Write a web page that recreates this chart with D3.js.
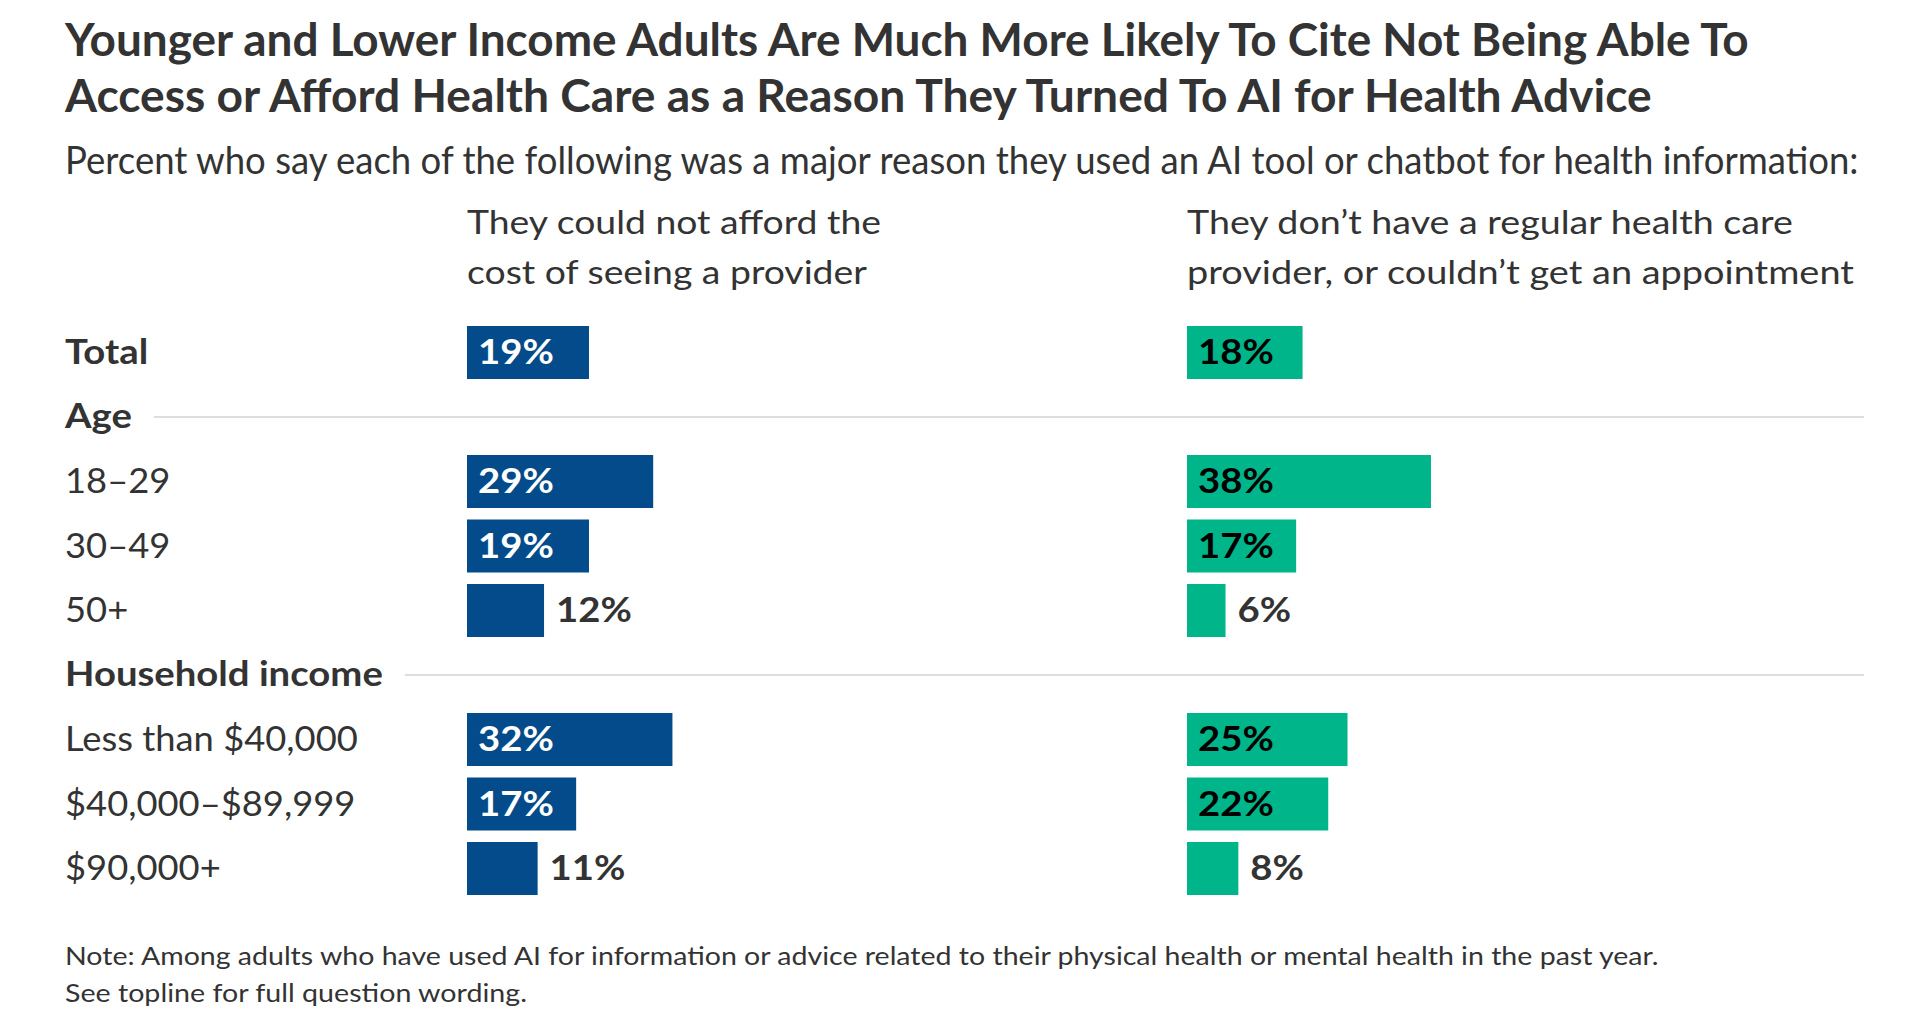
<!DOCTYPE html>
<html>
<head>
<meta charset="utf-8">
<script src="https://cdn.jsdelivr.net/npm/d3@7/dist/d3.min.js"></script>
<style>
  html, body { margin: 0; padding: 0; background: #fff; }
  svg { display: block; }
  text { font-family: Lato, "Open Sans", sans-serif; }
</style>
</head>
<body>
<svg id="chart" width="1920" height="1024"></svg>
<script>
// ---------- DATA ----------
const titleLines = [
  "Younger and Lower Income Adults Are Much More Likely To Cite Not Being Able To",
  "Access or Afford Health Care as a Reason They Turned To AI for Health Advice"
];
const subtitle = "Percent who say each of the following was a major reason they used an AI tool or chatbot for health information:";
const seriesNames = [
  ["They could not afford the", "cost of seeing a provider"],
  ["They don\u2019t have a regular health care", "provider, or couldn\u2019t get an appointment"]
];
const categories = ["Total", "18\u201329", "30\u201349", "50+", "Less than $40,000", "$40,000\u2013$89,999", "$90,000+"];
const groupOf = ["", "Age", "Age", "Age", "Household income", "Household income", "Household income"];
const afford = [19, 29, 19, 12, 32, 17, 11];
const access = [18, 38, 17, 6, 25, 22, 8];
const notes = [
  "Note: Among adults who have used AI for information or advice related to their physical health or mental health in the past year.",
  "See topline for full question wording."
];

// ---------- STYLE ----------
const colors = ["#034b8a", "#00b58a"];
const insideText = ["#ffffff", "#000000"];
const textColor = "#333333";

const svg = d3.select("#chart");

// Place a text at (x,y) and scale it horizontally to a target width (or by a factor)
function placeText(parent, x, y, str, size, weight, fill, target, factor) {
  const t = parent.append("text").attr("x", 0).attr("y", 0)
    .attr("font-size", size).attr("font-weight", weight).attr("fill", fill).text(str);
  const w = t.node().getComputedTextLength();
  let s = 1;
  if (target && w > 0) s = target / w;
  else if (factor) s = factor;
  t.attr("transform", `translate(${x},${y}) scale(${s},1)`);
  t.datum({ width: w * s });
  return t;
}

// ---------- TITLE / SUBTITLE ----------
const titleWidths = [1684, 1587];
const titleBase = [56, 112];
titleLines.forEach((t, i) => placeText(svg, 65, titleBase[i], t, 46, 700, textColor, titleWidths[i]));
placeText(svg, 65, 174, subtitle, 38, 400, textColor, 1794);

// ---------- LAYOUT ----------
const slots = [];
let lastGroup = null;
categories.forEach((c, i) => {
  if (groupOf[i] && groupOf[i] !== lastGroup) slots.push({ type: "head", key: "h_" + groupOf[i], label: groupOf[i] });
  lastGroup = groupOf[i];
  slots.push({ type: "row", key: "r_" + c, label: c, i, bold: groupOf[i] === "" });
});

const y = d3.scaleBand().domain(slots.map(s => s.key)).range([326, 895]).paddingInner(0.1783).paddingOuter(0);
const x = d3.scaleLinear().domain([0, 100]).range([0, 642]);
const colX = [467, 1187];
const rightEdge = 1864;

// column headers
const headWidths = [[414, 400], [606, 667]];
const headBase = [234, 284];
seriesNames.forEach((lines, s) => {
  lines.forEach((l, j) => placeText(svg, colX[s], headBase[j], l, 32, 400, textColor, headWidths[s][j]));
});

// squeeze factors from reference strings
function natural(str, size, weight) {
  const p = svg.append("text").attr("font-size", size).attr("font-weight", weight).text(str);
  const w = p.node().getComputedTextLength();
  p.remove();
  return w;
}
const labelFactor = 293 / natural("Less than $40,000", 35, 400);
const boldFactor = 318 / natural("Household income", 35, 700);

// headings + rules
slots.filter(s => s.type === "head").forEach(s => {
  const t = placeText(svg, 65, y(s.key) + 37, s.label, 35, 700, textColor, null, boldFactor);
  const tw = t.datum().width;
  svg.append("line").attr("x1", 65 + tw + 22).attr("x2", rightEdge)
    .attr("y1", y(s.key) + y.bandwidth() / 2).attr("y2", y(s.key) + y.bandwidth() / 2)
    .attr("stroke", "#dddddd").attr("stroke-width", 2);
});

// row labels
const rows = slots.filter(s => s.type === "row");
rows.forEach(s => {
  placeText(svg, 65, y(s.key) + 38, s.label, 35, s.bold ? 700 : 400, textColor, null, s.bold ? boldFactor : labelFactor);
});

// bars + value labels
const series = [afford, access];
series.forEach((vals, s) => {
  const g = svg.append("g").attr("transform", `translate(${colX[s]},0)`);
  g.selectAll("rect").data(rows).join("rect")
    .attr("x", 0).attr("y", d => y(d.key))
    .attr("width", d => x(vals[d.i])).attr("height", y.bandwidth())
    .attr("fill", colors[s]);
  rows.forEach(d => {
    const v = vals[d.i];
    const inside = v >= 15;
    placeText(g, inside ? 11 : x(v) + 12, y(d.key) + 38, v + "%", 35, 700,
      inside ? insideText[s] : textColor, null, boldFactor);
  });
});

// notes
const noteWidths = [1594, 462];
const noteBase = [965, 1002];
notes.forEach((n, i) => placeText(svg, 65, noteBase[i], n, 25, 400, textColor, noteWidths[i]));
</script>
</body>
</html>
